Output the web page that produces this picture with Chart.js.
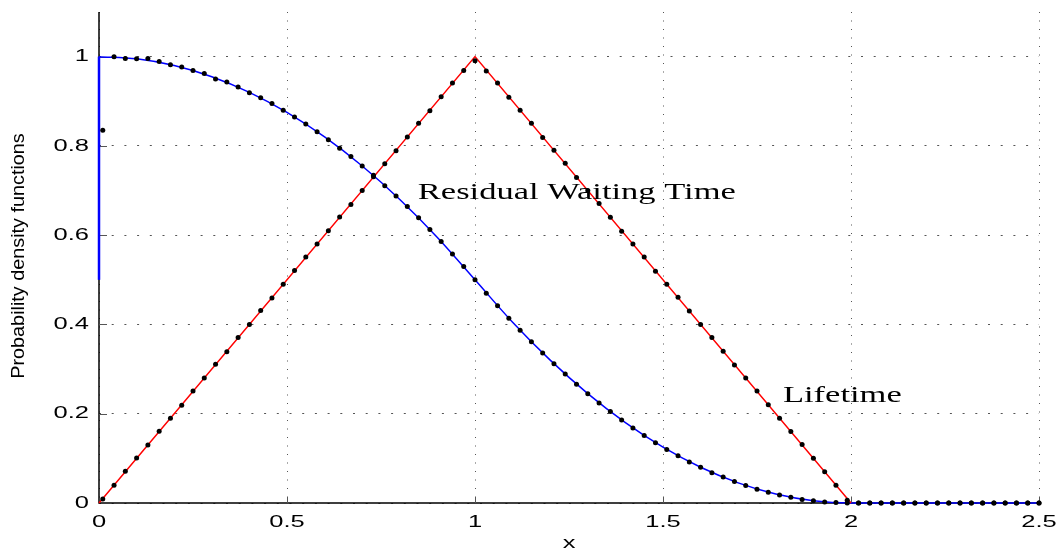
<!DOCTYPE html>
<html>
<head>
<meta charset="utf-8">
<script src="https://cdn.jsdelivr.net/npm/chart.js@4"></script>
<style>
  html, body { margin: 0; padding: 0; background: #fff; }
  #wrap { width: 1063px; height: 551px; }
</style>
</head>
<body>
<div id="wrap"><canvas id="pdfChart" width="1063" height="551"></canvas></div>
<script>
// sample points (black dots)
const xSample = [
    0.01, 0.04, 0.07, 0.10, 0.13, 0.16, 0.19, 0.22, 0.25, 0.28, 0.31, 0.34, 0.37, 0.40, 0.43, 0.46, 0.49,
    0.52, 0.55, 0.58, 0.61, 0.64, 0.67, 0.70, 0.73, 0.76, 0.79, 0.82, 0.85, 0.88, 0.91, 0.94, 0.97, 1.00,
    1.03, 1.06, 1.09, 1.12, 1.15, 1.18, 1.21, 1.24, 1.27, 1.30, 1.33, 1.36, 1.39, 1.42, 1.45, 1.48, 1.51,
    1.54, 1.57, 1.60, 1.63, 1.66, 1.69, 1.72, 1.75, 1.78, 1.81, 1.84, 1.87, 1.90, 1.93, 1.96, 1.99,
    2.02, 2.05, 2.08, 2.11, 2.14, 2.17, 2.20, 2.23, 2.26, 2.29, 2.32, 2.35, 2.38, 2.41, 2.44, 2.47, 2.50
];
const lifetimeSample = [
    0.009, 0.040, 0.071, 0.101, 0.130, 0.161, 0.190, 0.219, 0.251, 0.280, 0.311, 0.339, 0.371, 0.400, 0.431, 0.459, 0.490,
    0.521, 0.551, 0.580, 0.610, 0.641, 0.669, 0.700, 0.731, 0.760, 0.789, 0.820, 0.851, 0.879, 0.910, 0.941, 0.969, 0.991,
    0.968, 0.941, 0.909, 0.880, 0.851, 0.819, 0.790, 0.761, 0.729, 0.700, 0.671, 0.640, 0.609, 0.580, 0.551, 0.519, 0.490,
    0.461, 0.430, 0.400, 0.371, 0.340, 0.309, 0.280, 0.251, 0.220, 0.190, 0.160, 0.131, 0.100, 0.070, 0.040, 0.006,
    0, 0, 0, 0, 0, 0, 0, 0, 0, 0, 0, 0, 0, 0, 0, 0, 0
];
const residualSample = [
    0.835, 1.000, 0.996, 0.995, 0.996, 0.989, 0.982, 0.977, 0.969, 0.962, 0.950, 0.943, 0.932, 0.919, 0.908, 0.895, 0.880,
    0.865, 0.849, 0.832, 0.814, 0.795, 0.776, 0.755, 0.734, 0.711, 0.688, 0.664, 0.639, 0.613, 0.586, 0.558, 0.530, 0.500,
    0.470, 0.442, 0.414, 0.387, 0.361, 0.336, 0.312, 0.289, 0.266, 0.245, 0.224, 0.205, 0.186, 0.168, 0.151, 0.135, 0.120,
    0.106, 0.092, 0.080, 0.068, 0.058, 0.048, 0.039, 0.031, 0.024, 0.018, 0.013, 0.008, 0.005, 0.002, 0.001, 0,
    0, 0, 0, 0, 0, 0, 0, 0, 0, 0, 0, 0, 0, 0, 0, 0, 0
];

// theoretical curves
const residualCurveX = [0, 0.1, 0.2, 0.3, 0.4, 0.5, 0.6, 0.7, 0.8, 0.9, 1.0, 1.1, 1.2, 1.3, 1.4, 1.5, 1.6, 1.7, 1.8, 1.9, 2.0, 2.5];
const residualCurveY = [1, 0.995, 0.98, 0.955, 0.92, 0.875, 0.82, 0.755, 0.68, 0.595, 0.5, 0.405, 0.32, 0.245, 0.18, 0.125, 0.08, 0.045, 0.02, 0.005, 0, 0];
const residualJumpX = [0, 0];
const residualJumpY = [0.5, 1];
const lifetimeCurveX = [0, 1, 2];
const lifetimeCurveY = [0, 1, 0];

const xTicks = [0, 0.5, 1, 1.5, 2, 2.5];
const xTickLabels = ['0', '0.5', '1', '1.5', '2', '2.5'];
const yTicks = [0, 0.2, 0.4, 0.6, 0.8, 1];
const yTickLabels = ['0', '0.2', '0.4', '0.6', '0.8', '1'];

const toPoints = (xs, ys) => xs.map((x, i) => ({ x: x, y: ys[i] }));

// the reference is stretched sideways, so text gets drawn stretched too
const STRETCH = 1.5;

function stretchText(ctx, text, x, y, font, align, baseline) {
    ctx.save();
    ctx.translate(x, y);
    ctx.scale(STRETCH, 1);
    ctx.font = font;
    ctx.fillStyle = '#000';
    ctx.textAlign = align;
    ctx.textBaseline = baseline;
    ctx.fillText(text, 0, 0);
    ctx.restore();
}

const textPlugin = {
    id: 'matlabText',
    beforeDatasetsDraw(chart) {
        // solid axis lines + small inward tick marks, under the curves
        const ctx = chart.ctx;
        const xs = chart.scales.x;
        const ys = chart.scales.y;
        const area = chart.chartArea;
        ctx.save();
        ctx.setLineDash([]);
        ctx.strokeStyle = '#000';
        ctx.lineWidth = 1.5;
        ctx.beginPath();
        ctx.moveTo(area.left, area.top);
        ctx.lineTo(area.left, area.bottom);
        ctx.lineTo(area.right, area.bottom);
        ctx.stroke();

        ctx.strokeStyle = '#555';
        ctx.lineWidth = 1;
        yTicks.forEach(v => {
            if (v === 0) return;
            const py = Math.round(ys.getPixelForValue(v)) + 0.5;
            ctx.beginPath();
            ctx.moveTo(area.left, py);
            ctx.lineTo(area.left + 8, py);
            ctx.stroke();
        });
        xTicks.forEach(v => {
            if (v === 0) return;
            const px = Math.round(xs.getPixelForValue(v)) + 0.5;
            ctx.beginPath();
            ctx.moveTo(px, area.bottom);
            ctx.lineTo(px, area.bottom - 6);
            ctx.stroke();
        });
        ctx.restore();
    },
    afterDraw(chart) {
        const ctx = chart.ctx;
        const xs = chart.scales.x;
        const ys = chart.scales.y;
        const area = chart.chartArea;

        const tickFont = '17px "Liberation Sans", Arial, sans-serif';
        yTicks.forEach((v, i) => {
            stretchText(ctx, yTickLabels[i], area.left - 10, ys.getPixelForValue(v), tickFont, 'right', 'middle');
        });
        xTicks.forEach((v, i) => {
            stretchText(ctx, xTickLabels[i], xs.getPixelForValue(v), area.bottom + 19, tickFont, 'center', 'middle');
        });

        // axis titles
        stretchText(ctx, 'x', (area.left + area.right) / 2, 543, tickFont, 'center', 'middle');

        ctx.save();
        ctx.translate(19, 256);
        ctx.rotate(-Math.PI / 2);
        ctx.scale(1.1, 1);
        ctx.font = '18px "Liberation Sans", Arial, sans-serif';
        ctx.fillStyle = '#000';
        ctx.textAlign = 'center';
        ctx.textBaseline = 'middle';
        ctx.fillText('Probability density functions', 0, 0);
        ctx.restore();

        // curve labels
        const serif = '23px "Liberation Serif", "Times New Roman", serif';
        stretchText(ctx, 'Residual Waiting Time', xs.getPixelForValue(0.848), ys.getPixelForValue(0.681), serif, 'left', 'alphabetic');
        stretchText(ctx, 'Lifetime', xs.getPixelForValue(1.819), ys.getPixelForValue(0.227), serif, 'left', 'alphabetic');
    }
};

const lineStyle = { showLine: true, pointRadius: 0, borderWidth: 1.5, fill: false, clip: false, order: 2 };
const dotStyle = { showLine: false, pointRadius: 2.5, pointBorderWidth: 0, backgroundColor: '#000', borderColor: '#000', clip: false, order: 1 };

new Chart(document.getElementById('pdfChart'), {
    type: 'scatter',
    data: {
        datasets: [
            Object.assign({ label: 'Lifetime samples', data: toPoints(xSample, lifetimeSample) }, dotStyle),
            Object.assign({ label: 'Residual samples', data: toPoints(xSample, residualSample) }, dotStyle),
            Object.assign({ label: 'Lifetime', data: toPoints(lifetimeCurveX, lifetimeCurveY), borderColor: '#ff0000' }, lineStyle),
            Object.assign({ label: 'Residual Waiting Time', data: toPoints(residualCurveX, residualCurveY), borderColor: '#0000ff', cubicInterpolationMode: 'monotone' }, lineStyle),
            Object.assign({ label: 'Residual jump', data: toPoints(residualJumpX, residualJumpY), borderColor: '#0000ff' }, lineStyle, { borderWidth: 2.5 })
        ]
    },
    options: {
        responsive: false,
        animation: false,
        layout: { padding: { left: 99, right: 24, top: 12, bottom: 48 } },
        plugins: {
            legend: { display: false },
            tooltip: { enabled: false }
        },
        scales: {
            x: {
                type: 'linear',
                min: 0,
                max: 2.5,
                afterBuildTicks: scale => { scale.ticks = xTicks.map(v => ({ value: v })); },
                ticks: { display: false },
                grid: { color: '#555', lineWidth: 1, drawTicks: false },
                // in v4, border.dash styles the grid lines
                border: { display: false, dash: [1, 7.5] }
            },
            y: {
                type: 'linear',
                min: 0,
                max: 1.1,
                afterBuildTicks: scale => { scale.ticks = yTicks.map(v => ({ value: v })); },
                ticks: { display: false },
                grid: { color: '#555', lineWidth: 1, drawTicks: false },
                border: { display: false, dash: [2, 10.7] }
            }
        }
    },
    plugins: [textPlugin]
});
</script>
</body>
</html>
